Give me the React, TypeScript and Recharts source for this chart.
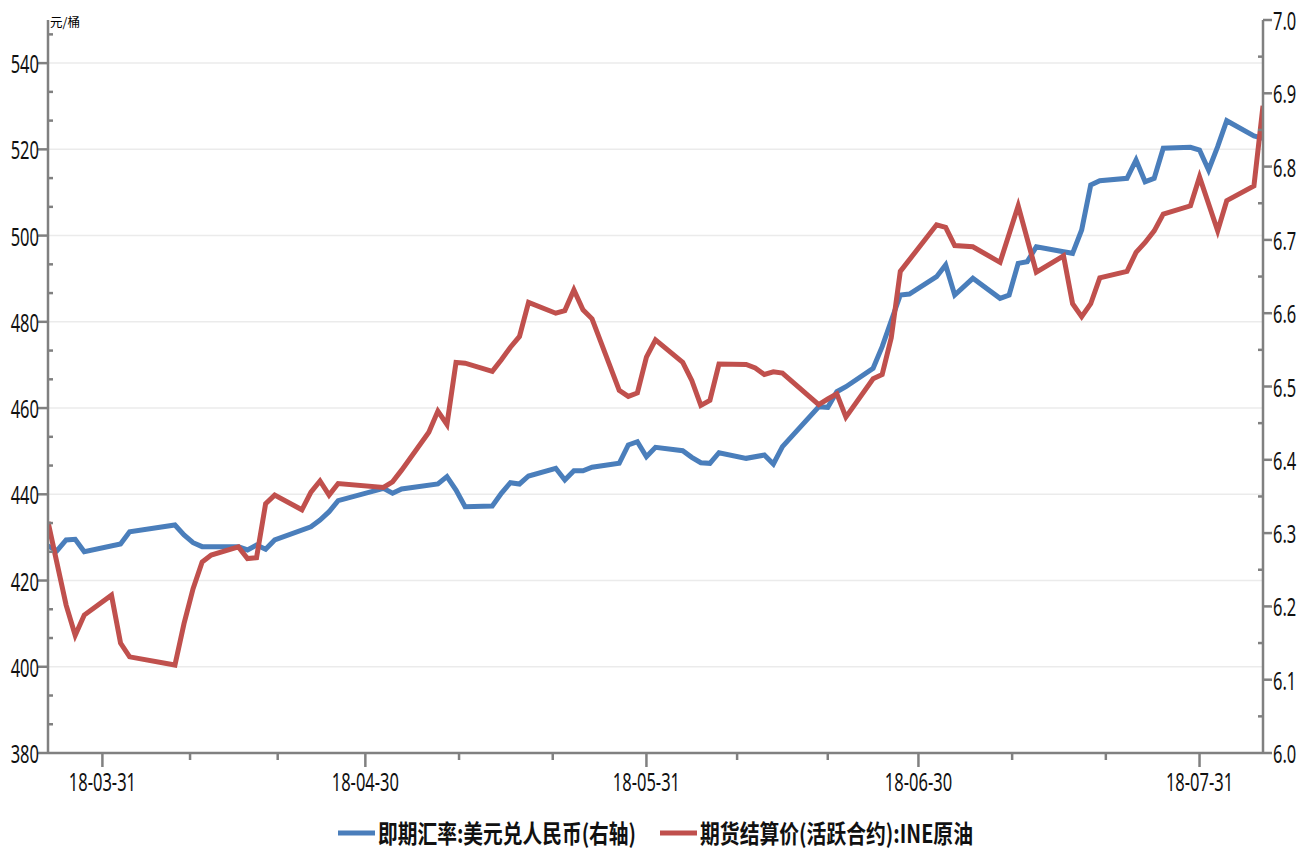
import React from 'react';
import { LineChart, Line, XAxis, YAxis, ReferenceLine, Legend } from 'recharts';

// USD/CNY spot (right axis)
const cnyDates = [
  '2018-03-26', '2018-03-27', '2018-03-28', '2018-03-29', '2018-03-30', '2018-04-03', '2018-04-04',
  '2018-04-09', '2018-04-10', '2018-04-11', '2018-04-12', '2018-04-16', '2018-04-17', '2018-04-18',
  '2018-04-19', '2018-04-20', '2018-04-24', '2018-04-25', '2018-04-26', '2018-04-27', '2018-05-02',
  '2018-05-03', '2018-05-04', '2018-05-08', '2018-05-09', '2018-05-10', '2018-05-11', '2018-05-14',
  '2018-05-15', '2018-05-16', '2018-05-17', '2018-05-18', '2018-05-21', '2018-05-22', '2018-05-23',
  '2018-05-24', '2018-05-25', '2018-05-28', '2018-05-29', '2018-05-30', '2018-05-31', '2018-06-01',
  '2018-06-04', '2018-06-05', '2018-06-06', '2018-06-07', '2018-06-08', '2018-06-11', '2018-06-13',
  '2018-06-14', '2018-06-15', '2018-06-19', '2018-06-20', '2018-06-21', '2018-06-22', '2018-06-25',
  '2018-06-26', '2018-06-28', '2018-06-29', '2018-07-02', '2018-07-03', '2018-07-04', '2018-07-06',
  '2018-07-09', '2018-07-10', '2018-07-11', '2018-07-12', '2018-07-13', '2018-07-16', '2018-07-17',
  '2018-07-18', '2018-07-19', '2018-07-20', '2018-07-23', '2018-07-24', '2018-07-25', '2018-07-26',
  '2018-07-27', '2018-07-30', '2018-07-31', '2018-08-01', '2018-08-02', '2018-08-03', '2018-08-06',
  '2018-08-07',
];
const cnyValues = [
  6.2824, 6.276, 6.2906, 6.2915, 6.2746, 6.2851, 6.3019,
  6.311, 6.2974, 6.2869, 6.2815, 6.2815, 6.277, 6.2838,
  6.2779, 6.2906, 6.3087, 6.3179, 6.3292, 6.3442, 6.3611,
  6.3543, 6.3602, 6.367, 6.377, 6.3588, 6.336, 6.337,
  6.3543, 6.3688, 6.367, 6.3779, 6.3884, 6.3724, 6.3851,
  6.3851, 6.3898, 6.3952, 6.4202, 6.4247, 6.4042, 6.417,
  6.4124, 6.4034, 6.396, 6.3952, 6.4097, 6.402, 6.4065,
  6.3943, 6.4179, 6.4724, 6.4716, 6.4929, 6.4997, 6.5248,
  6.5543, 6.6248, 6.6262, 6.6498, 6.6658, 6.6248, 6.6476,
  6.6203, 6.6248, 6.668, 6.6703, 6.6907, 6.6839, 6.6817,
  6.7135, 6.7749, 6.7808, 6.784, 6.809, 6.7794, 6.784,
  6.825, 6.8263, 6.8226, 6.7954, 6.8272, 6.8626, 6.8418,
  6.8386,
];

// INE crude settlement price (left axis)
const ineDates = [
  '2018-03-26', '2018-03-28', '2018-03-29', '2018-03-30', '2018-04-02', '2018-04-03', '2018-04-04',
  '2018-04-09', '2018-04-10', '2018-04-11', '2018-04-12', '2018-04-13', '2018-04-16', '2018-04-17',
  '2018-04-18', '2018-04-19', '2018-04-20', '2018-04-23', '2018-04-24', '2018-04-25', '2018-04-26',
  '2018-04-27', '2018-05-02', '2018-05-03', '2018-05-04', '2018-05-07', '2018-05-08', '2018-05-09',
  '2018-05-10', '2018-05-11', '2018-05-14', '2018-05-15', '2018-05-16', '2018-05-17', '2018-05-18',
  '2018-05-21', '2018-05-22', '2018-05-23', '2018-05-24', '2018-05-25', '2018-05-28', '2018-05-29',
  '2018-05-30', '2018-05-31', '2018-06-01', '2018-06-04', '2018-06-05', '2018-06-06', '2018-06-07',
  '2018-06-08', '2018-06-11', '2018-06-12', '2018-06-13', '2018-06-14', '2018-06-15', '2018-06-19',
  '2018-06-20', '2018-06-21', '2018-06-22', '2018-06-25', '2018-06-26', '2018-06-27', '2018-06-28',
  '2018-07-02', '2018-07-03', '2018-07-04', '2018-07-06', '2018-07-09', '2018-07-11', '2018-07-13',
  '2018-07-16', '2018-07-17', '2018-07-18', '2018-07-19', '2018-07-20', '2018-07-23', '2018-07-24',
  '2018-07-25', '2018-07-26', '2018-07-27', '2018-07-30', '2018-07-31', '2018-08-02', '2018-08-03',
  '2018-08-06', '2018-08-07',
];
const ineValues = [
  433.6, 414.3, 407.3, 412.0, 416.6, 405.5, 402.3,
  400.4, 410.0, 418.1, 424.3, 425.9, 427.8, 425.1,
  425.3, 437.8, 439.8, 436.4, 440.5, 443.1, 439.8,
  442.5, 441.6, 442.9, 445.6, 454.4, 459.3, 456.2,
  470.6, 470.4, 468.5, 471.2, 474.1, 476.6, 484.5,
  482.0, 482.6, 487.4, 482.8, 480.7, 464.1, 462.7,
  463.5, 471.8, 475.8, 470.6, 466.4, 460.6, 461.8,
  470.2, 470.1, 469.3, 467.8, 468.4, 468.1, 460.8,
  462.1, 463.3, 457.9, 466.8, 467.8, 476.3, 491.7,
  502.5, 501.9, 497.7, 497.4, 493.8, 506.9, 491.5,
  495.3, 484.2, 481.2, 484.2, 490.2, 491.7, 496.1,
  498.4, 501.1, 505.0, 506.9, 513.6, 501.1, 508.1,
  511.5, 530.1,
];

const xTickDates = ['2018-04-01', '2018-04-30', '2018-05-31', '2018-06-30', '2018-07-31'];
const xTickLabels = ['18-03-31', '18-04-30', '18-05-31', '18-06-30', '18-07-31'];
const leftTicks = [380, 400, 420, 440, 460, 480, 500, 520, 540];
const rightTicks = [6.0, 6.1, 6.2, 6.3, 6.4, 6.5, 6.6, 6.7, 6.8, 6.9, 7.0];

const BLUE = '#4a7ebb';
const RED = '#c0504d';
const AXIS = '#808080';
const FONT = '"Noto Sans", "Noto Sans CJK SC", sans-serif';

const START = Date.UTC(2018, 2, 26);
const dayOf = (d: string) => {
  const [y, m, dd] = d.split('-').map(Number);
  return (Date.UTC(y, m - 1, dd) - START) / 86400000;
};

const cnyData = cnyDates.map((d, i) => ({ t: dayOf(d), v: cnyValues[i] }));
const ineData = ineDates.map((d, i) => ({ t: dayOf(d), v: ineValues[i] }));

const xMajor = xTickDates.map(dayOf);
const xMinor: number[] = [];
for (let i = 0; i < xMajor.length - 1; i++) {
  const a = xMajor[i], b = xMajor[i + 1];
  xMinor.push(a + (b - a) / 3, a + (2 * (b - a)) / 3);
}
const leftMinor: number[] = [];
leftTicks.forEach((v) => leftMinor.push(v + 20 / 3, v + 40 / 3));
const leftAll = [...leftTicks, ...leftMinor.filter((v) => v < 550)];
const rightMinor = rightTicks.slice(0, -1).map((v) => v + 0.05);

const Txt = ({ x, y, anchor, children }: any) => (
  <g transform={`translate(${x},${y}) scale(0.66,1)`}>
    <text x={0} y={0} textAnchor={anchor} fontSize={25} fontFamily={FONT} fill="#111">
      {children}
    </text>
  </g>
);

const LeftTick = ({ x, y, payload }: any) => {
  const v = payload.value;
  if (leftTicks.includes(v)) {
    return (
      <g>
        <line x1={x - 10} x2={x} y1={y} y2={y} stroke={AXIS} strokeWidth={2.5} />
        <Txt x={x - 9} y={y + 10} anchor="end">{v}</Txt>
      </g>
    );
  }
  return <line x1={x} x2={x + 5} y1={y} y2={y} stroke={AXIS} strokeWidth={2.5} />;
};

const RightTick = ({ x, y, payload }: any) => {
  const v = payload.value;
  if (rightTicks.includes(v)) {
    return (
      <g>
        <line x1={x} x2={x + 9} y1={y} y2={y} stroke={AXIS} strokeWidth={2.5} />
        <Txt x={x + 10} y={y + 10} anchor="start">{v.toFixed(1)}</Txt>
      </g>
    );
  }
  return <line x1={x - 5} x2={x} y1={y} y2={y} stroke={AXIS} strokeWidth={2.5} />;
};

const BottomTick = ({ x, y, payload }: any) => {
  const idx = xMajor.indexOf(payload.value);
  if (idx >= 0) {
    return (
      <g>
        <line x1={x} x2={x} y1={y} y2={y + 14} stroke={AXIS} strokeWidth={2.5} />
        <Txt x={x} y={y + 38} anchor="middle">{xTickLabels[idx]}</Txt>
      </g>
    );
  }
  return <line x1={x} x2={x} y1={y} y2={y + 7} stroke={AXIS} strokeWidth={2.5} />;
};

const legendItems = [
  { name: '即期汇率:美元兑人民币(右轴)', color: BLUE, x: 338, len: 258 },
  { name: '期货结算价(活跃合约):INE原油', color: RED, x: 660, len: 273 },
];

const LegendContent = () => (
  <svg width={1303} height={40} style={{ display: 'block' }}>
    {legendItems.map((it) => (
      <g key={it.name}>
        <line x1={it.x} x2={it.x + 37} y1={25} y2={25} stroke={it.color} strokeWidth={5} />
        <text
          x={it.x + 40}
          y={34.5}
          fontSize={25}
          fontWeight="bold"
          fontFamily='"Noto Sans CJK SC", sans-serif'
          fill="#111"
          textLength={it.len}
          lengthAdjust="spacingAndGlyphs"
        >
          {it.name}
        </text>
      </g>
    ))}
  </svg>
);

export default function App() {
  return (
    <div style={{ width: 1303, height: 848, background: '#fff' }}>
      <style>{'body{margin:0}'}</style>
      <LineChart width={1303} height={848} margin={{ top: 20, right: 0, bottom: 0, left: 0 }}>
        <XAxis
          type="number"
          dataKey="t"
          domain={[0, 134]}
          ticks={[...xMajor, ...xMinor]}
          interval={0}
          tickSize={0}
          tickMargin={0}
          tick={<BottomTick />}
          tickLine={false}
          axisLine={{ stroke: AXIS, strokeWidth: 2.5 }}
          height={55}
          allowDataOverflow
        />
        <YAxis
          yAxisId="left"
          orientation="left"
          type="number"
          domain={[380, 550]}
          ticks={leftAll}
          interval={0}
          tickSize={0}
          tickMargin={0}
          tick={<LeftTick />}
          tickLine={false}
          axisLine={{ stroke: AXIS, strokeWidth: 2.5 }}
          width={48}
          allowDataOverflow
          label={{
            content: ({ viewBox }: any) => (
              <text
                x={(viewBox ? viewBox.x + viewBox.width : 48) + 2}
                y={(viewBox ? viewBox.y : 20) + 7}
                fontSize={12.5}
                fontFamily='"Noto Sans CJK SC", sans-serif'
                fill="#000"
              >
                元/桶
              </text>
            ),
          }}
        />
        <YAxis
          yAxisId="right"
          orientation="right"
          type="number"
          domain={[6.0, 7.0]}
          ticks={[...rightTicks, ...rightMinor]}
          interval={0}
          tickSize={0}
          tickMargin={0}
          tick={<RightTick />}
          tickLine={false}
          axisLine={{ stroke: AXIS, strokeWidth: 2.5 }}
          width={40}
          allowDataOverflow
        />
        {leftTicks.slice(1).map((v) => (
          <ReferenceLine key={v} yAxisId="left" y={v} stroke="#ebebeb" strokeWidth={1.5} />
        ))}
        <Legend verticalAlign="bottom" height={40} content={<LegendContent />} wrapperStyle={{ left: 0, bottom: 0, width: 1303, height: 40 }} />
        <Line
          yAxisId="right"
          data={cnyData}
          dataKey="v"
          name="即期汇率:美元兑人民币(右轴)"
          type="linear"
          stroke={BLUE}
          strokeWidth={5}
          dot={false}
          activeDot={false}
          isAnimationActive={false}
        />
        <Line
          yAxisId="left"
          data={ineData}
          dataKey="v"
          name="期货结算价(活跃合约):INE原油"
          type="linear"
          stroke={RED}
          strokeWidth={5}
          dot={false}
          activeDot={false}
          isAnimationActive={false}
        />
      </LineChart>
    </div>
  );
}
